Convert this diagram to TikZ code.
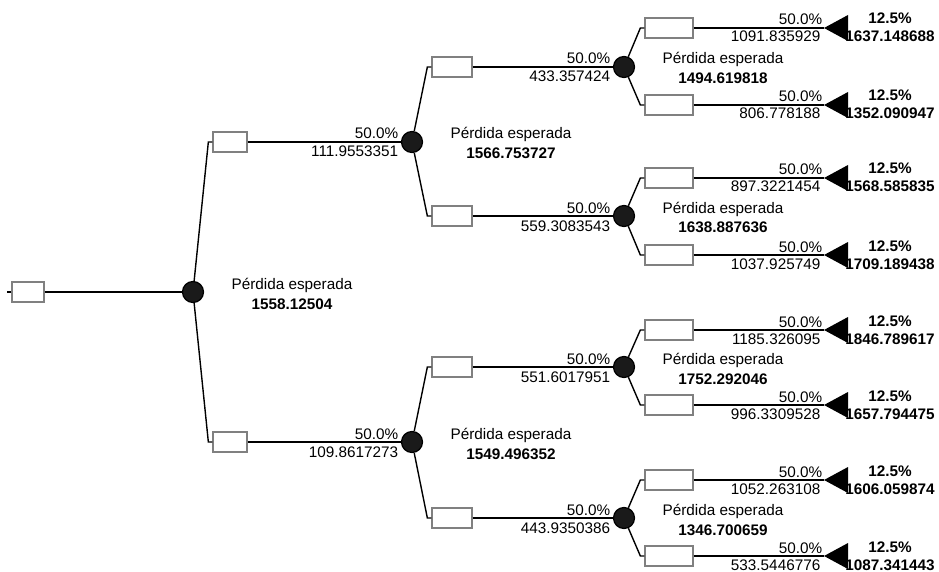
\documentclass[tikz,border=0pt]{standalone}
\usepackage{fontspec}
\setmainfont{Liberation Sans}
\usetikzlibrary{calc}
\definecolor{boxgray}{RGB}{128,128,128}
\definecolor{chancefill}{RGB}{26,26,26}

\begin{document}
\begin{tikzpicture}[x=1pt,y=-1pt,line width=1.4pt,
  every node/.style={font=\fontsize{15.3}{18}\selectfont,inner sep=0pt},
  bold/.style={font=\fontsize{15.3}{18}\selectfont\bfseries},
  decbox/.style={draw=boxgray,line width=1.3pt,fill=white,minimum height=20pt},
  chancenode/.style={circle,draw=black,fill=chancefill,line width=1.2pt,minimum size=21pt}]
  \useasboundingbox (0,0) rectangle (939,572);

  % root
  \node[decbox,minimum width=32pt] (b0) at (28,292) {};
  \node[chancenode] (c0) at (193,292) {};
  \draw (b0.west) -- ++(-4,0);
  \draw (b0.east) -- (c0);

  % chance branches
  \foreach \from/\bx/\c/\px/\y/\w/\cx/\val in {
      c0/b1/c1/230/142/34pt/412/111.9553351,
      c0/b2/c2/230/442/34pt/412/109.8617273,
      c1/b11/c11/452/67/40pt/624/433.357424,
      c1/b12/c12/452/216/40pt/624/559.3083543,
      c2/b21/c21/452/367/40pt/624/551.6017951,
      c2/b22/c22/452/518/40pt/624/443.9350386} {
    \node[decbox,minimum width=\w] (\bx) at (\px,\y) {};
    \node[chancenode] (\c) at (\cx,\y) {};
    \draw (\from) -- ([xshift=-4pt]\bx.west) -- (\bx.west);
    \draw (\bx.east) -- (\c);
    \node[anchor=base east] (\c p) at ($(\c.west)+(-2,-3)$) {50.0\%};
    \node[anchor=base east] (\c v) at ($(\c.west)+(-2,15)$) {\val};
  }

  % terminal branches
  \foreach \from/\y/\val/\tot [count=\i] in {
      c11/28/1091.835929/1637.148688,
      c11/105/806.778188/1352.090947,
      c12/178/897.3221454/1568.585835,
      c12/255/1037.925749/1709.189438,
      c21/330/1185.326095/1846.789617,
      c21/405/996.3309528/1657.794475,
      c22/480/1052.263108/1606.059874,
      c22/556/533.5446776/1087.341443} {
    \node[decbox,minimum width=48pt] (lb\i) at (669,\y) {};
    \coordinate (t\i) at (824,\y);
    \draw (\from) -- ([xshift=-4pt]lb\i.west) -- (lb\i.west);
    \draw (lb\i.east) -- (t\i);
    \fill (t\i) -- ++(24,-13) -- ++(0,26) -- cycle;
    \node[anchor=base east] (lp\i) at ($(t\i)+(-1,-3)$) {50.0\%};
    \node[anchor=base east] (lv\i) at ($(t\i)+(-3,14)$) {\val};
    \node[bold,anchor=base] (lq\i) at ($(t\i)+(66,-4)$) {12.5\%};
    \node[bold,anchor=base] (lt\i) at ($(t\i)+(66,14)$) {\tot};
  }

  % expected loss
  \foreach \c/\e in {c0/1558.12504, c1/1566.753727, c2/1549.496352,
      c11/1494.619818, c12/1638.887636, c21/1752.292046, c22/1346.700659} {
    \node[anchor=base] (\c e) at ($(\c)+(99,-3)$) {Pérdida esperada};
    \node[bold,anchor=base] (\c s) at ($(\c)+(99,17)$) {\e};
  }
\end{tikzpicture}
\end{document}
